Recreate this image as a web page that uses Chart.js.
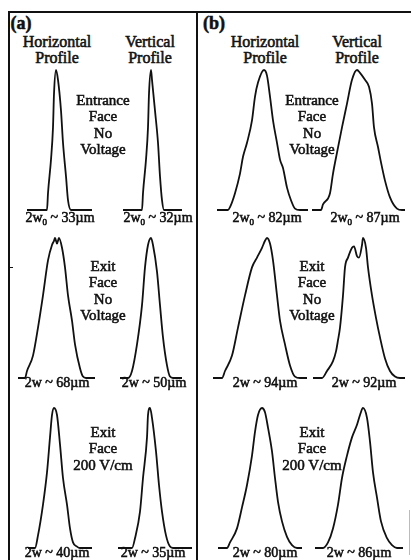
<!DOCTYPE html>
<html lang="en">
<head>
<meta charset="UTF-8">
<title>Beam profiles</title>
<script src="https://cdn.jsdelivr.net/npm/chart.js"></script>
<style>
  body { margin: 0; width: 411px; height: 560px; background: #fff; position: relative; overflow: hidden;
         font-family: "Liberation Serif", "Times New Roman", serif; color: #111; }
  .plot { position: absolute; }
  .txt { position: absolute; transform: translateX(-50%); white-space: nowrap; text-align: center;
         -webkit-text-stroke: 0.55px #111; }
  .txt sub { font-size: 9px; line-height: 0; vertical-align: -3px; }
  .rule { position: absolute; background: #111; }
</style>
</head>
<body>
  <div class="rule" style="left:8px; top:11px; width:403px; height:2px"></div>
  <div class="rule" style="left:8px; top:11px; width:2px; height:549px"></div>
  <div class="rule" style="left:196px; top:11px; width:2px; height:549px"></div>
  <div class="rule" style="left:10px; top:267px; width:3px; height:1px"></div>
  <div class="rule" style="left:409px; top:510px; width:1px; height:45px; background:#bbb"></div>

<script>
// beam profiles: [position (arb.), normalised intensity]
// (a) row 1: entrance face, no voltage
const a1H = [[0,0],[20,0],[21,.12],[24,.36],[26,.59],[27,.83],[29,1],[31,.93],[34,.71],[36,.48],[39,.24],[41,.07],[44,0],[65,0]];
const a1V = [[0,0],[19,0],[20,.12],[23,.36],[25,.59],[26,.83],[28,1],[29,.93],[32,.71],[35,.48],[37,.24],[39,.07],[41,0],[59,0]];
// (a) row 2: exit face, no voltage
const a2H = [[0,0],[7,0],[9,.05],[15,.16],[20,.36],[25,.59],[30,.84],[34,.95],[36,.98],[37,1],[39,.96],[41,1],[44,.93],[47,.79],[50,.59],[54,.41],[57,.24],[62,.07],[65,.01],[68,0],[77,0]];
const a2V = [[0,0],[8,0],[12,.05],[17,.24],[22,.52],[25,.79],[28,.95],[31,1],[33,.95],[37,.76],[40,.52],[43,.29],[47,.09],[50,.01],[53,0],[62,0]];
// (a) row 3: exit face, 200 V/cm
const a3H = [[0,0],[7,0],[10,.09],[15,.31],[19,.54],[22,.79],[24,.95],[26,1],[29,.95],[32,.74],[35,.5],[39,.31],[42,.14],[45,.04],[49,.01],[52,0],[64,0]];
const a3V = [[0,0],[14,0],[17,.07],[22,.26],[25,.5],[29,.79],[30,.95],[32,1],[34,.93],[38,.69],[41,.45],[44,.26],[48,.09],[52,.01],[55,0],[74,0]];
// (b) row 1
const b1H = [[0,0],[11,0],[13,.02],[18,.12],[23,.26],[26,.38],[30,.48],[35,.64],[38,.81],[41,.91],[47,1],[50,.96],[53,.81],[56,.64],[60,.48],[63,.36],[66,.3],[70,.16],[74,.07],[78,.01],[83,0],[91,0]];
const b1V = [[0,0],[9,0],[11,.04],[18,.12],[21,.26],[25,.41],[30,.59],[35,.76],[40,.93],[45,1],[48,.98],[53,.93],[57,.88],[60,.76],[62,.59],[66,.45],[69,.34],[73,.21],[78,.09],[85,.01],[90,0],[93,0]];
// (b) row 2
const b2H = [[0,0],[9,0],[12,.05],[19,.16],[25,.36],[32,.59],[39,.79],[44,.86],[49,.93],[52,.98],[54,1],[57,.96],[60,.84],[64,.59],[67,.41],[72,.24],[77,.09],[82,.01],[87,0],[94,0]];
const b2V = [[0,0],[9,0],[14,.05],[20,.12],[23,.19],[25,.27],[27,.36],[30,.59],[32,.79],[35,.86],[39,.93],[41,.94],[44,.87],[46,.86],[49,.95],[50,1],[53,.93],[55,.79],[59,.59],[63,.43],[67,.29],[72,.14],[77,.05],[82,.01],[87,0],[92,0]];
// (b) row 3
const b3H = [[0,0],[9,0],[12,.04],[19,.14],[24,.29],[29,.45],[34,.66],[37,.83],[40,.95],[44,1],[47,.97],[50,.86],[54,.69],[57,.5],[60,.33],[64,.19],[69,.08],[74,.02],[79,0],[84,0]];
const b3V = [[0,0],[8,0],[13,.04],[18,.14],[23,.31],[27,.5],[32,.66],[37,.79],[42,.88],[45,.95],[48,1],[52,.93],[55,.76],[58,.54],[62,.36],[66,.19],[72,.07],[77,.02],[82,0],[88,0]];

const widthsA = ['2w<sub>0</sub> ~ 33\u00b5m', '2w<sub>0</sub> ~ 32\u00b5m', '2w ~ 68\u00b5m', '2w ~ 50\u00b5m', '2w ~ 40\u00b5m', '2w ~ 35\u00b5m'];
const widthsB = ['2w<sub>0</sub> ~ 82\u00b5m', '2w<sub>0</sub> ~ 87\u00b5m', '2w ~ 94\u00b5m', '2w ~ 92\u00b5m', '2w ~ 80\u00b5m', '2w ~ 86\u00b5m'];
const conditions = [['Entrance', 'Face', 'No', 'Voltage'], ['Exit', 'Face', 'No', 'Voltage'], ['Exit', 'Face', '200 V/cm']];

// where each small plot sits on the page
const plots = [
  { data: a1H, left: 27,  top: 70,  width: 65, height: 140 },
  { data: a1V, left: 123, top: 70,  width: 59, height: 140 },
  { data: a2H, left: 18,  top: 238, width: 77, height: 140 },
  { data: a2V, left: 120, top: 238, width: 62, height: 140 },
  { data: a3H, left: 28,  top: 408, width: 64, height: 140 },
  { data: a3V, left: 118, top: 408, width: 74, height: 140 },
  { data: b1H, left: 217, top: 70,  width: 91, height: 140 },
  { data: b1V, left: 312, top: 70,  width: 93, height: 140 },
  { data: b2H, left: 213, top: 238, width: 94, height: 140 },
  { data: b2V, left: 313, top: 238, width: 92, height: 140 },
  { data: b3H, left: 218, top: 408, width: 84, height: 140 },
  { data: b3V, left: 315, top: 408, width: 88, height: 140 }
];

const pad = 2;
plots.forEach(p => {
  const cv = document.createElement('canvas');
  cv.className = 'plot';
  cv.width = p.width + 2 * pad;
  cv.height = p.height + 2 * pad;
  cv.style.left = (p.left - pad) + 'px';
  cv.style.top = (p.top - pad) + 'px';
  document.body.appendChild(cv);
  new Chart(cv, {
    type: 'line',
    data: { datasets: [{ data: p.data.map(d => ({ x: d[0], y: d[1] })), borderColor: '#111', borderWidth: 1.8,
      pointRadius: 0, cubicInterpolationMode: 'monotone', fill: false, clip: false }] },
    options: {
      responsive: false, animation: false, devicePixelRatio: 1,
      layout: { padding: pad },
      plugins: { legend: { display: false }, tooltip: { enabled: false } },
      scales: {
        x: { type: 'linear', display: false, min: 0, max: p.data[p.data.length - 1][0] },
        y: { display: false, min: 0, max: 1 }
      }
    }
  });
});

// text placed by centre x and first baseline
function addText(cx, base, lines, size, weight, gap) {
  const d = document.createElement('div');
  d.className = 'txt';
  d.style.fontSize = size + 'px';
  d.style.fontWeight = weight;
  d.style.lineHeight = gap + 'px';
  d.style.left = cx + 'px';
  d.style.top = (base - ((gap - 1.107 * size) / 2 + 0.891 * size)) + 'px';
  d.innerHTML = lines.join('<br>');
  document.body.appendChild(d);
}

addText(21, 29, ['(a)'], 18, 'bold', 18);
addText(214, 29, ['(b)'], 18, 'bold', 18);
[[57, 150], [265, 357]].forEach(c => {
  addText(c[0], 47, ['Horizontal', 'Profile'], 16, 'normal', 16);
  addText(c[1], 47, ['Vertical', 'Profile'], 16, 'normal', 16);
});
const condBase = [105, 271, 437];
conditions.forEach((lines, i) => {
  addText(103, condBase[i], lines, 15, 'normal', 16.5);
  addText(312, condBase[i], lines, 15, 'normal', 16.5);
});
const widthBase = [223, 388, 558];
const colA = [[60, 158], [57, 154], [57, 153]];
const colB = [[267, 365], [265, 364], [265, 359]];
widthBase.forEach((b, i) => {
  addText(colA[i][0], b, [widthsA[2 * i]], 14, 'normal', 16);
  addText(colA[i][1], b, [widthsA[2 * i + 1]], 14, 'normal', 16);
  addText(colB[i][0], b, [widthsB[2 * i]], 14, 'normal', 16);
  addText(colB[i][1], b, [widthsB[2 * i + 1]], 14, 'normal', 16);
});
</script>
</body>
</html>
